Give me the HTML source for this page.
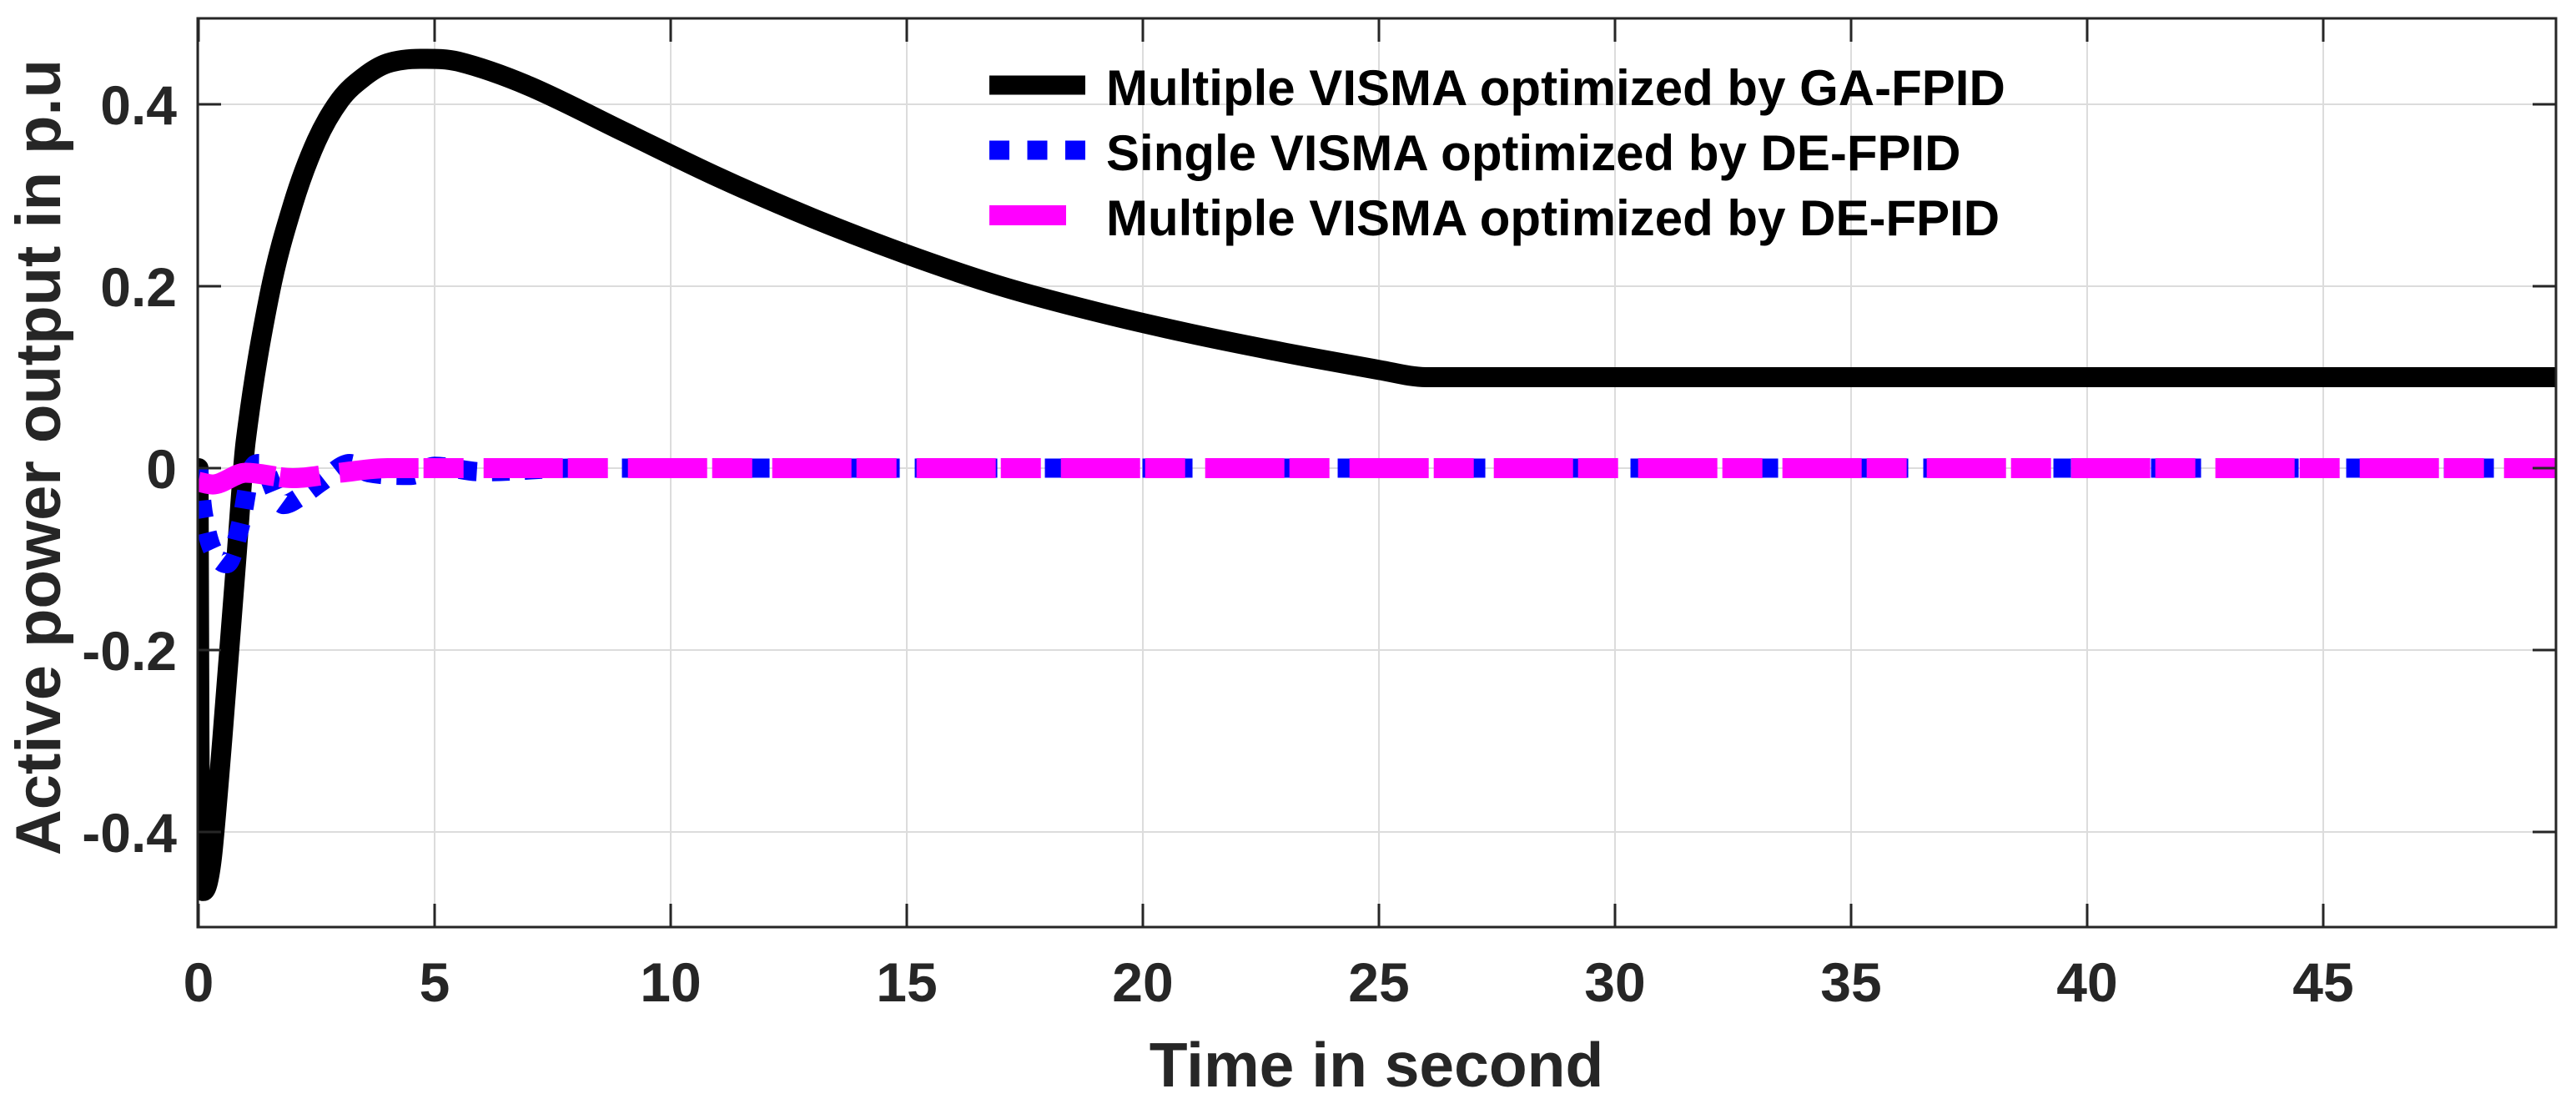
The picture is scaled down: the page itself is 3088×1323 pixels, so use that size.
<!DOCTYPE html>
<html><head><meta charset="utf-8"><style>
html,body{margin:0;padding:0;background:#fff;}
svg{display:block;}
text{font-family:"Liberation Sans",Arial,sans-serif;font-weight:bold;}
</style></head><body>
<svg id="chart" width="3088" height="1323" viewBox="0 0 3088 1323">
<defs><clipPath id="plotclip"><rect x="237" y="22" width="2827" height="1089"/></clipPath></defs>
<rect width="3088" height="1323" fill="#fff"/>
<g id="grid"></g>
<g id="series" clip-path="url(#plotclip)"></g>
<g id="axes"></g>
<text x="1650" y="1302" font-size="75" text-anchor="middle" fill="#262626">Time in second</text>
<text transform="translate(72,548) rotate(-90)" font-size="76" text-anchor="middle" fill="#262626">Active power output in p.u</text>
<g>
<line x1="1186" y1="102" x2="1301" y2="102" stroke="#000" stroke-width="23"/>
<text x="1326" y="126" font-size="60" fill="#000">Multiple VISMA optimized by GA-FPID</text>
<line x1="1186" y1="180" x2="1301" y2="180" stroke="#0000ff" stroke-width="23" stroke-dasharray="24 21.5"/>
<text x="1326" y="204" font-size="60" fill="#000">Single VISMA optimized by DE-FPID</text>
<line x1="1186" y1="258" x2="1278" y2="258" stroke="#ff00ff" stroke-width="24"/>
<text x="1326" y="282" font-size="60" fill="#000">Multiple VISMA optimized by DE-FPID</text>
</g>
</svg>
<script>
const xTicks=[0,5,10,15,20,25,30,35,40,45];
const yTicks=[-0.4,-0.2,0,0.2,0.4];
const yTickLabels=["-0.4","-0.2","0","0.2","0.4"];
const gaT=[0,0.02,0.05,0.1,0.2,0.3,0.5,0.8,1.0,1.5,2,2.5,3,3.5,4,4.7,5.5,7,9,11,13,15,17,19,21,23,25,26,50];
const gaY=[0,-0.3,-0.42,-0.465,-0.455,-0.42,-0.3,-0.1,0.03,0.19,0.29,0.36,0.405,0.43,0.445,0.45,0.447,0.42,0.37,0.32,0.275,0.235,0.2,0.172,0.148,0.127,0.108,0.1,0.1];
const sT=[0,0.1,0.3,0.6,0.9,1.1,1.3,1.8,2.2,2.6,3.2,3.6,4.5,5,6,8,50];
const sY=[0,-0.05,-0.09,-0.105,-0.06,-0.005,0.005,-0.04,-0.03,-0.015,0.005,-0.005,-0.008,0.002,-0.004,0,0];
const mT=[0,0.3,1,2,3,4,50];
const mY=[-0.015,-0.018,-0.005,-0.011,-0.005,0,0];
const X0=238,XU=56.6,Y0=561,YU=1090,L=237,R=3064,T=22,B=1111;
const sx=t=>X0+t*XU, sy=v=>Y0-v*YU;
const NS="http://www.w3.org/2000/svg";
function mk(tag,parent,attrs){const e=document.createElementNS(NS,tag);for(const k in attrs)e.setAttribute(k,attrs[k]);parent.appendChild(e);return e;}
const grid=document.getElementById('grid'),axes=document.getElementById('axes'),ser=document.getElementById('series');
xTicks.forEach(t=>{
  const g=mk('line',grid,{x1:sx(t),x2:sx(t),y1:T,y2:B,stroke:'#dcdcdc','stroke-width':2});
  
  
  const a=mk('line',axes,{x1:sx(t),x2:sx(t),y1:B,y2:B-28,stroke:'#262626','stroke-width':3});
  
  
  const b=mk('line',axes,{x1:sx(t),x2:sx(t),y1:T,y2:T+28,stroke:'#262626','stroke-width':3});
  
  
  const tx=mk('text',axes,{x:sx(t),y:1200,'font-size':66,'text-anchor':'middle',fill:'#262626'});
  tx.textContent=String(t);
  
  
});
yTicks.forEach((v,i)=>{
  const g=mk('line',grid,{x1:L,x2:R,y1:sy(v),y2:sy(v),stroke:'#dcdcdc','stroke-width':2});
  
  
  const a=mk('line',axes,{x1:L,x2:L+28,y1:sy(v),y2:sy(v),stroke:'#262626','stroke-width':3});
  
  
  const b=mk('line',axes,{x1:R,x2:R-28,y1:sy(v),y2:sy(v),stroke:'#262626','stroke-width':3});
  
  
  const tx=mk('text',axes,{x:212,y:sy(v)+24,'font-size':66,'text-anchor':'end',fill:'#262626'});
  tx.textContent=yTickLabels[i];
  
  
});
const box=mk('rect',axes,{x:L,y:T,width:R-L,height:B-T,fill:'none',stroke:'#262626','stroke-width':3});


function smooth(ts,ys){
  const P=ts.map((t,i)=>[sx(t),sy(ys[i])]);
  const n=P.length,m=[];
  for(let i=0;i<n;i++){
    const a=P[Math.max(0,i-1)],b=P[Math.min(n-1,i+1)];
    let s=(b[1]-a[1])/(b[0]-a[0]);
    // keep flat at local extrema / sign changes
    if(i>0&&i<n-1){
      const d1=(P[i][1]-P[i-1][1]),d2=(P[i+1][1]-P[i][1]);
      if(d1*d2<=0) s=0;
      if(Math.abs(d2)<1e-6||Math.abs(d1)<1e-6) s=0;
    }
    m.push(s);
  }
  let d='M'+P[0][0].toFixed(1)+','+P[0][1].toFixed(1);
  for(let i=0;i<n-1;i++){
    const h=P[i+1][0]-P[i][0];
    const c1=[P[i][0]+h/3,P[i][1]+m[i]*h/3];
    const c2=[P[i+1][0]-h/3,P[i+1][1]-m[i+1]*h/3];
    d+=' C'+c1[0].toFixed(1)+','+c1[1].toFixed(1)+' '+c2[0].toFixed(1)+','+c2[1].toFixed(1)+' '+P[i+1][0].toFixed(1)+','+P[i+1][1].toFixed(1);
  }
  return d;
}
const p1=mk('path',ser,{d:smooth(gaT,gaY),fill:'none',stroke:'#000','stroke-width':24,'stroke-linejoin':'round','stroke-linecap':'round'});


const p2=mk('path',ser,{d:smooth(sT,sY),fill:'none',stroke:'#0000ff','stroke-width':23,'stroke-dasharray':'21 18'});


const p3=mk('path',ser,{d:smooth(mT,mY),fill:'none',stroke:'#ff00ff','stroke-width':24,'stroke-dasharray':'95 6 48 24'});


</script>
</body></html>
